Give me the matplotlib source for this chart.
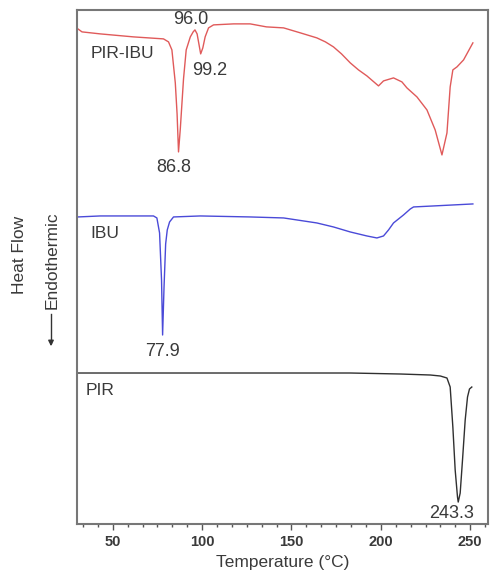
import matplotlib.pyplot as plt
from matplotlib.ticker import MultipleLocator

# DSC thermograms, heat flow in arbitrary units (curves stacked)
pir_ibu_t = [30.5, 32.8, 43.0, 61.6, 78.4, 81.2, 83.1, 85.0, 86.0, 86.8, 87.8,
             88.7, 89.6, 91.1, 93.4, 95.0, 96.0, 97.2, 98.2, 99.2, 100.4, 101.7,
             103.6, 106.4, 117.6, 126.9, 136.0, 145.6, 155.0, 164.2, 169.0, 173.5,
             178.0, 182.9, 187.5, 192.2, 198.7, 201.5, 207.1, 211.8, 214.6, 220.2,
             225.8, 230.4, 234.2, 237.0, 238.8, 240.3, 242.6, 246.3, 251.5]
pir_ibu_hf = [495, 492, 490, 487, 485, 482, 474, 441, 410, 372, 395,
              420, 445, 474, 487, 492, 494, 490, 480, 470, 476, 487,
              496, 499, 500, 500, 497, 496, 491, 486, 482, 477,
              470, 461, 454, 448, 438, 443, 446, 442, 436, 427,
              414, 394, 369, 391, 437, 454, 457, 464, 481]

ibu_t = [30.5, 43.0, 61.6, 72.8, 74.7, 76.2, 77.3, 77.9, 78.7, 79.6, 80.5, 81.8,
         84.0, 99.0, 126.9, 145.6, 164.2, 173.5, 182.9, 192.2, 197.8, 201.5, 204.3,
         207.1, 212.7, 216.5, 218.3, 229.5, 251.5]
ibu_hf = [307, 308, 308, 308, 306, 291, 244, 189, 237, 280, 294, 302,
          307, 308, 307, 306, 301, 297, 292, 288, 286, 288, 294,
          301, 309, 315, 317, 318, 320]

pir_t = [30.5, 126.9, 182.9, 210.9, 227.7, 233.3, 237.0, 238.8, 240.3, 241.6,
         242.9, 243.3, 244.4, 245.7, 247.2, 248.5, 249.6, 250.9]
pir_hf = [151, 151, 151, 150, 149, 148, 146, 137, 97, 54,
          27, 22, 31, 64, 104, 127, 135, 137]

peaks = [(86.8, 372, "86.8", (-5, -16)),
         (96.0, 494, "96.0", (-4, 10)),
         (99.2, 470, "99.2", (9, -17)),
         (77.9, 189, "77.9", (0, -17)),
         (243.3, 22, "243.3", (-7, -11))]

curve_labels = [(37.4, 470, "PIR-IBU"), (37.4, 290, "IBU"), (34.6, 134, "PIR")]

plt.rcParams["font.family"] = ["Liberation Sans", "DejaVu Sans"]
text_color = "#3a3a3a"

fig = plt.figure(figsize=(4.92, 5.81), dpi=100)
ax = fig.add_axes([0.1565, 0.098, 0.8355, 0.885])

ax.plot(pir_ibu_t, pir_ibu_hf, color="#e05a5a", lw=1.0)
ax.plot(ibu_t, ibu_hf, color="#4a4ad8", lw=1.0)
ax.plot(pir_t, pir_hf, color="#303030", lw=1.0)

for t, hf, txt, off in peaks:
    ax.annotate(txt, xy=(t, hf), xytext=off, textcoords="offset pixels",
                ha="center", va="center", fontsize=13, color=text_color)

for t, hf, txt in curve_labels:
    ax.text(t, hf, txt, ha="left", va="center", fontsize=12.5, color=text_color)

ax.set_xlim(30, 260)
ax.set_ylim(0, 514)
ax.set_yticks([])
ax.xaxis.set_major_locator(MultipleLocator(50))
ax.xaxis.set_minor_locator(MultipleLocator(50 / 6))
ax.tick_params(axis="x", which="major", direction="out", length=4, width=1,
               color="#555555", labelsize=10.5, labelcolor=text_color, pad=4)
ax.tick_params(axis="x", which="minor", direction="out", length=2, width=1,
               color="#555555")
for lbl in ax.get_xticklabels():
    lbl.set_fontweight("bold")
for sp in ax.spines.values():
    sp.set_color("#777777")
    sp.set_linewidth(1.5)

ax.set_xlabel("Temperature (°C)", fontsize=12.5, color=text_color, labelpad=4)

# y label with endothermic arrow
fig.text(20 / 492, 1 - 255 / 581, "Heat Flow", rotation=90, ha="center",
         va="center", fontsize=12.5, color=text_color)
fig.text(52 / 492, 1 - 260 / 581, "Endothermic", rotation=90, ha="center",
         va="center", fontsize=12.5, color=text_color)
fig.add_artist(plt.Line2D([51 / 492, 51 / 492], [1 - 314 / 581, 1 - 343 / 581],
                          color="#333333", lw=1.0))
ax.annotate("", xy=(51 / 492, 1 - 349 / 581), xytext=(51 / 492, 1 - 340 / 581),
            xycoords="figure fraction",
            arrowprops=dict(arrowstyle="-|>", color="#333333", lw=1.0,
                            mutation_scale=8))

fig.savefig("out.png", dpi=100)
